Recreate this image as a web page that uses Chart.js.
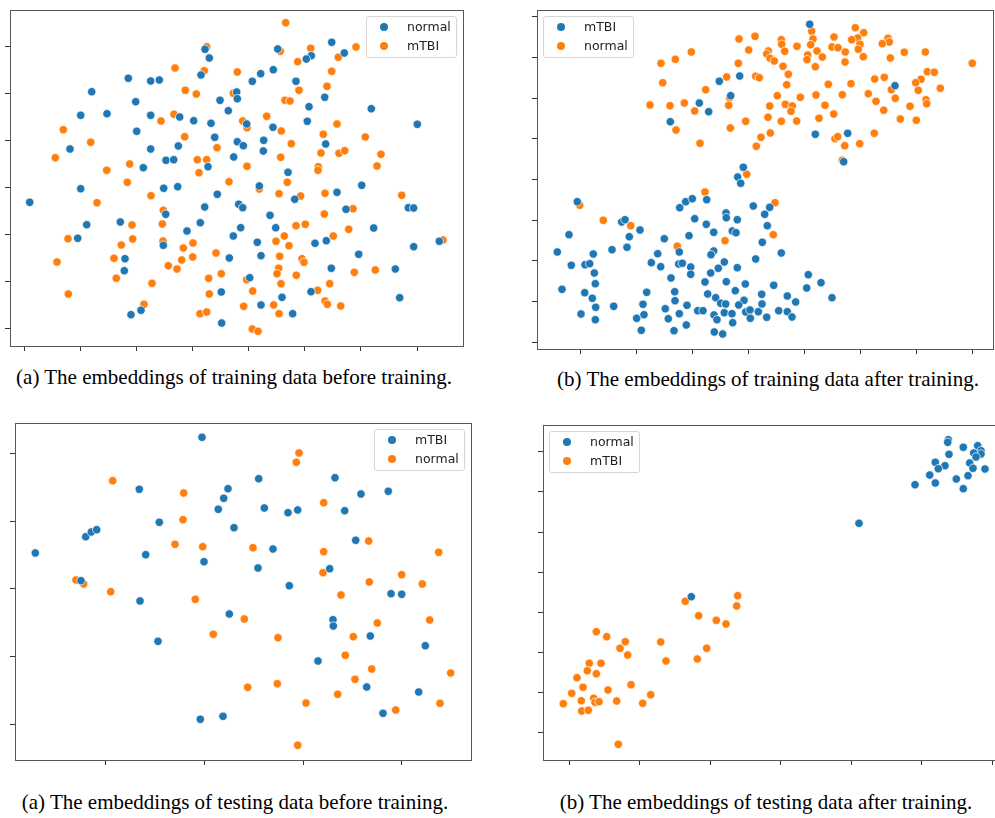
<!DOCTYPE html>
<html>
<head>
<meta charset="utf-8">
<script src="https://cdn.jsdelivr.net/npm/chart.js@4"></script>
<style>
  html, body { margin: 0; padding: 0; background: #fff; }
  body { width: 995px; height: 818px; position: relative; overflow: hidden; }
  .panel { position: absolute; }
  .legend {
    position: absolute; box-sizing: border-box; width: 91px; height: 42px;
    border: 1px solid #d6d6d6; border-radius: 3px; background: rgba(255,255,255,0.85);
    font-family: "DejaVu Sans", sans-serif; font-size: 12.5px; color: #222;
  }
  .legend .row { position: absolute; left: 0; height: 16px; line-height: 16px; }
  .legend .dot { position: absolute; left: 13px; top: 4px; width: 8px; height: 8px; border-radius: 50%; }
  .legend .txt { position: absolute; left: 40px; top: 0; white-space: nowrap; }
  .caption {
    position: absolute; text-align: center; white-space: nowrap;
    font-family: "Liberation Serif", "Times New Roman", serif; font-size: 21px; line-height: 21px; color: #000;
  }
</style>
</head>
<body>

<div class="caption" style="left:0; width:468px; top:367px;">(a) The embeddings of training data before training.</div>
<div class="caption" style="left:534px; width:468px; top:369px;">(b) The embeddings of training data after training.</div>
<div class="caption" style="left:0; width:470px; top:792px;">(a) The embeddings of testing data before training.</div>
<div class="caption" style="left:532px; width:468px; top:792px;">(b) The embeddings of testing data after training.</div>

<script>
const BLUE = '#1f77b4';
const ORANGE = '#ff7f0e';

// values are read off the picture (embedding coordinates have no units)
// panel (a) training, before training
const trainBeforeNormal = [
  [205,49.3],[209.3,58],[201,75],[128.3,78.3],[150.7,81],[159.3,80],[91.7,91.7],[236.7,92],[237.3,98.7],[220,100.3],
  [135.7,101.7],[228.3,110.7],[80.7,115.3],[107,113.7],[150.7,115.3],[179.7,117],[193.7,120.7],[211,123.3],[136.7,131.3],
  [214.7,137.3],[237.3,141.7],[70,149],[150.7,149],[178.3,146],[166,160.3],[173.7,159.7],[233.7,157],[208,166.7],
  [143.3,167.7],[80.7,188.7],[163.7,188.3],[177.7,186.7],[217.3,194.3],[29.7,202.3],[238.7,204.3],[204.7,207],
  [165.7,214.3],[120.3,222],[200.3,222.7],[86.7,224.7],[240.7,227.7],[187,231],[233.3,236],[77.7,238.3],[163.3,245.3],
  [229.3,258],[125,258.7],[124.3,270.7],[221.3,292],[141,310.3],[131,314.7],[221.7,323],
  [331.7,42.3],[277.7,49],[311.3,55.7],[306.3,59],[344.3,53],[273.3,69.7],[260.7,73.7],[252.3,81.3],[296,81.3],
  [324.7,97.3],[309,106.7],[371.3,108.7],[307.3,121.3],[246.7,124],[273,127.3],[417.3,124.3],[243.3,145.7],
  [263.7,140.3],[263.3,151],[325.7,144],[288,172.3],[259.3,186],[361.7,185.3],[337,192.3],[294.7,199.3],[242.7,207.7],
  [346,209.3],[408.3,207.7],[413.7,208],[270,215.3],[275.7,227.7],[373.7,228],[257.3,242.3],[315,243.3],[326.3,240.7],
  [439.3,241.3],[413.7,246.7],[261,255.7],[358.7,254.3],[331.3,268.3],[395.3,269],[249.7,277.7],[282,297.3],
  [311,291.7],[399.7,297.7],[261,305],[292.7,313.7]
];
const trainBeforeMtbi = [
  [206.7,46.7],[175,68],[204.3,70.7],[237.3,72],[185.3,90.3],[196.3,94],[233.3,93.3],[174,114.3],[161,121],[63.3,129.7],
  [184.7,136.7],[90.7,142.3],[55.3,157.7],[217,147.7],[197.3,159.7],[206.7,159.7],[129.7,164],[106.7,170.3],[199,172.7],
  [127.3,182.3],[229,181.7],[151,195.7],[97,202.7],[163.3,210.3],[162.3,224],[132,225],[68,238.7],[132.7,239],[163,241],
  [121.3,245],[193,243],[183.3,248],[216,253],[114,258.3],[192.7,257],[181.7,260],[57,262],[168.3,265.7],[177,269],
  [221.3,273.7],[116.3,278.3],[208.7,278.3],[152,283.3],[209.3,294],[68.3,294],[144,304.3],[200,313.7],[206.7,312],
  [285.7,22.7],[356,47],[280.3,51.3],[310.7,48.3],[338.3,57.3],[297.7,61.7],[331.7,71.3],[327,86.3],[299,90.3],
  [285,100.3],[290,101],[266.7,116.3],[242.7,121],[247,127.7],[281.3,131],[337,124],[323.3,134.3],[365.3,137],
  [291.3,143.7],[321,153],[339,153.3],[344.7,150.7],[381,154.3],[280.7,157.3],[247,166.3],[318.3,166.7],[318,170.3],
  [377,166],[287.3,182.3],[259.3,189],[279,193.7],[300.7,196],[325,193.3],[401.7,195.3],[353,208.7],[324.3,214],
  [296,225.7],[305.3,224.3],[348.7,229.3],[284.3,236],[333.3,236],[276,241.3],[289,245.7],[443,240],[279.7,256.3],
  [302,258.7],[304,262.3],[278.7,268.3],[277,273.7],[296.3,275.3],[354.3,272.3],[375.3,270],[246.7,279.7],[252.7,291],
  [281,283.7],[329.7,283.7],[317.7,290.3],[243.7,306.3],[273.7,305],[279,313.7],[325,301],[327.3,304.3],[340.7,306],
  [252.3,329],[258,331.3]
];
const trainBeforeXTicks = [24, 80.1, 136.3, 192.4, 248.6, 304.7, 360.9, 417];
const trainBeforeYTicks = [46.7, 93.6, 140.6, 187.5, 234.5, 281.4, 328.4];

// panel (b) training, after training
const trainAfterMtbi = [
  [739.7,76],[719.3,81.3],[730.7,95.7],[699.3,103],[708.7,111.7],[670.3,121.7],[743.3,167.3],[737.7,177],[740.7,183.3],
  [577.3,201.7],[679.7,207.7],[685.7,201.7],[692.3,198.7],[706.7,199.7],[753.3,206],[621.7,222],[625,219.7],[726,213],
  [726.3,217.7],[737.3,219.7],[694.7,218.7],[706.3,224.3],[640,230],[569,234.7],[629.3,236.7],[713.7,232.3],[732.3,231],
  [736,232.7],[689,235.7],[664.3,238.7],[627,247.3],[612,249.7],[557.3,252],[593.3,254],[679.3,252],[657.7,253.7],
  [713.7,251],[711,254.7],[571.3,265.3],[585,264.7],[589.7,263.7],[651.3,262.7],[660.7,266.7],[678.7,264],[682.3,263.3],
  [690.7,267],[724.3,262],[718.3,268.3],[737.3,267.7],[594.3,273],[690.7,274.3],[710.7,273],[595.3,283.7],[671,278],
  [705,282],[726.3,281.7],[745.3,284],[562,289.3],[584.7,292.7],[592.3,298.3],[646.7,292.3],[674.7,291.7],[707.7,294],
  [735.3,290.7],[715.7,297.7],[675,300.7],[687,305.3],[720.7,303.3],[725.7,304],[744,300.3],[738.7,305],[643,304.3],
  [613.7,306.3],[595.7,307.3],[665.3,308.7],[697.7,310.7],[703,310.7],[581,314],[595.3,319.7],[636.7,318.3],[644,314.7],
  [668.3,318.7],[679.3,313.7],[714,315],[724.3,312.7],[732,313.7],[745.7,312],[750,310],[750.3,318.3],[717,319.7],
  [732.7,322.7],[641.3,330.3],[674,330.7],[686.3,325],[714.3,332],[722.7,334],
  [809.7,24.3],[895,85.7],[815.3,134.3],[847.7,133.3],[843.7,161.7],[769.7,207.3],[764.7,214.3],[767.3,225.7],
  [762.3,242.3],[781.3,253],[755.7,259],[808.3,274.7],[821,282.7],[773.7,285.3],[806.7,288],[761.7,294.3],[787.3,296],
  [832,297.7],[795.7,302],[762,304],[758.3,311.7],[778.7,310.7],[787.3,311.7],[766.7,317.3],[792,317]
];
const trainAfterNormal = [
  [739,39],[755,36.3],[748.7,50],[691.3,52],[675.3,59.3],[661,63.3],[738.3,63.3],[726.7,77],[755.7,76.3],[759.3,77.7],
  [662.7,82.7],[705.7,89.7],[729.7,97.7],[650,105],[670,105.7],[684.3,103],[728.7,105.3],[694.7,111],[745.7,121.3],
  [676,130],[730.3,128],[700,143.3],[746.7,174.3],[705,192],[579.7,205.3],[603.3,220.3],[630.7,225.7],[725,240.7],
  [677.3,246.3],
  [811.7,31.3],[813,39],[810.7,44.7],[855.3,27.7],[863.7,32.7],[857.7,38],[851.7,39.7],[834,37],[860,44.3],[858.3,49.3],
  [888,38.3],[889.3,42],[882.3,43.7],[781.3,39.7],[781.7,44.3],[797,46.3],[784.7,51.3],[768.3,51],[766.7,54],[770,58.3],
  [774.3,61],[807.7,55],[807,59.7],[817,51],[822.3,57],[832,47],[838,47.7],[845.3,52],[863.3,56.7],[845,62],[815.3,66.7],
  [783,66.3],[890.3,58],[904.3,52.3],[925.3,52],[972.3,63.3],[788.3,74.3],[786.7,84.7],[828.3,84.3],[851,83.7],
  [874.7,79],[884.3,77.3],[927.3,71.7],[934.3,72.3],[921,79.3],[915.7,82.7],[891.3,89.7],[918.3,90.3],[940.3,88.3],
  [777.3,95.7],[800.3,97.3],[816,95],[842.3,94.7],[868.3,93.7],[895.3,98.3],[876,101.3],[769.7,106],[785.3,104.3],
  [792.3,106],[791,111.3],[825,105.3],[910,106.3],[926,99.7],[926.7,103.7],[883.7,110.3],[833.7,114],[768,117.3],
  [781.3,121.3],[796.7,121],[819,118.3],[900.3,119],[916.3,120.3],[770.3,133],[761,137.3],[756.3,146.3],[835,138.7],
  [837.7,136.7],[844.7,145.7],[859.7,143.7],[874.3,133.3],[842.3,160.3],[775,202.7],[773.3,234.7]
];
const trainAfterXTicks = [580.7, 636.7, 692.7, 748.7, 804.7, 860.7, 916.7, 972.7];
const trainAfterYTicks = [16.7, 57.4, 98.1, 138.8, 179.5, 220.2, 260.9, 301.6, 342.3];

// panel (a) testing, before training
const testBeforeMtbi = [
  [202,437.3],[139.3,489.3],[228,488.7],[223.7,498.3],[218.3,509.3],[159.3,522.3],[234,527.7],[85.7,536.7],[91.3,532],
  [96.7,529.7],[35.3,553],[145.7,554.7],[204,561.7],[81,580.7],[140,601],[229.3,614],[158,641.3],[200.3,719.3],[223,716.3],
  [258.7,478.7],[335,477.7],[361,494],[388.3,491.3],[264.3,508],[288,512.7],[297.7,510],[344.7,510.7],[355.7,540.3],
  [273,549],[258,568],[329.7,568.7],[289.3,585.7],[391,593.7],[401.7,594.3],[333,619.7],[333.3,626],[370.3,636],
  [425.3,645.7],[318,661],[366.7,687],[418.7,692],[383,713.3]
];
const testBeforeNormal = [
  [112.7,480.7],[183.7,493],[183,519.7],[175,544.3],[202.7,546.7],[76,580],[83.7,584],[110.7,591.7],[195.3,599.3],
  [213.3,634.3],
  [299,453],[296.3,462.3],[323.7,502.7],[368.7,541],[253,547.7],[323.7,551.7],[438.7,552.3],[323,572.7],[401.7,574.7],
  [369.3,582],[422.3,584],[341,595],[244.3,619],[377.3,623],[429.7,620],[278,637.7],[353.3,636.7],[345.3,655.3],
  [371.7,669],[450.7,673],[247.7,687.3],[277.3,683.7],[355,679.3],[337.7,694.3],[306,703],[440,703.3],[395.7,710],
  [297.7,745.3]
];
const testBeforeXTicks = [105.5, 204.3, 303.1, 401.9];
const testBeforeYTicks = [453.3, 521.1, 588.8, 656.6, 724.3];

// panel (b) testing, after training
const testAfterNormal = [
  [948.3,439.7],[947.7,442.3],[963.3,447.3],[977.7,445.7],[981,450.7],[981,454],[973.7,453],[976,457],[949,454.3],
  [935.3,462.3],[945,465.7],[938.3,468.7],[969.7,463],[973,468.3],[985,469],[929.7,475],[968,475.7],[956.3,479],
  [935.3,483],[915,484.7],[963.3,488.7],[859,523.3],[691.3,596.7]
];
const testAfterMtbi = [
  [685.3,601.3],[737.7,595.7],[736.7,606],[698.7,615.7],[716.3,620.3],[726,624],[596.3,631.7],[606.7,636.7],[625.3,641.7],
  [620,648.3],[627.7,655],[660.7,642],[666,661],[706.7,648.3],[697.3,659],[589.3,663.3],[601,663.3],[587.3,670.7],
  [596.3,673.7],[577,677.7],[583,687.3],[608,690],[631,684.7],[571.7,693.3],[650.7,694.7],[563.3,703.7],[581.3,700.7],
  [593.7,698.3],[595,702.3],[599,701.7],[616.7,701],[642.7,703.3],[581.7,711],[588.3,710.3],[618.3,744.3]
];
const testAfterXTicks = [569.3, 639.8, 710.2, 780.6, 851.1, 921.5, 992];
const testAfterYTicks = [451.7, 491.8, 532, 572.1, 612.3, 652.4, 692.6, 732.7];

const TICK = 5;   // tick mark length
const PAD = 3;    // room so the frame is not clipped

// frame = [left, top, right, bottom] of the axes box
const panels = [
  { frame: [10, 10, 463, 346], xTicks: trainBeforeXTicks, yTicks: trainBeforeYTicks, legend: 'right',
    series: [{ label: 'normal', data: trainBeforeNormal, color: BLUE }, { label: 'mTBI', data: trainBeforeMtbi, color: ORANGE }] },
  { frame: [537, 10, 993, 349], xTicks: trainAfterXTicks, yTicks: trainAfterYTicks, legend: 'left',
    series: [{ label: 'mTBI', data: trainAfterMtbi, color: BLUE }, { label: 'normal', data: trainAfterNormal, color: ORANGE }] },
  { frame: [15, 423, 471, 760], xTicks: testBeforeXTicks, yTicks: testBeforeYTicks, legend: 'right',
    series: [{ label: 'mTBI', data: testBeforeMtbi, color: BLUE }, { label: 'normal', data: testBeforeNormal, color: ORANGE }] },
  { frame: [543, 425, 999, 760], xTicks: testAfterXTicks, yTicks: testAfterYTicks, legend: 'left',
    series: [{ label: 'normal', data: testAfterNormal, color: BLUE }, { label: 'mTBI', data: testAfterMtbi, color: ORANGE }] }
];

// draw the top and right spines too
const boxPlugin = {
  id: 'box',
  afterDraw(chart) {
    const a = chart.chartArea, c = chart.ctx;
    c.save();
    c.strokeStyle = '#555';
    c.lineWidth = 1;
    c.strokeRect(Math.round(a.left) + 0.5, Math.round(a.top) + 0.5, Math.round(a.right - a.left), Math.round(a.bottom - a.top));
    c.restore();
  }
};

function axis(min, max, ticks, reverse) {
  return {
    type: 'linear', min, max, reverse,
    border: { display: false },
    grid: { display: true, drawOnChartArea: false, drawTicks: true, tickLength: TICK, color: '#333', lineWidth: 1 },
    ticks: { display: false },
    afterBuildTicks: (s) => { s.ticks = ticks.map(v => ({ value: v })); }
  };
}

panels.forEach((p, i) => {
  const [l, t, r, b] = p.frame;
  const div = document.createElement('div');
  div.className = 'panel';
  Object.assign(div.style, {
    left: (l - TICK) + 'px',
    top: (t - PAD) + 'px',
    width: (r - l + TICK + PAD) + 'px',
    height: (b - t + TICK + PAD) + 'px'
  });
  const canvas = document.createElement('canvas');
  div.appendChild(canvas);
  document.body.appendChild(div);

  const chart = new Chart(canvas.getContext('2d'), {
    type: 'scatter',
    data: {
      datasets: p.series.map(s => ({
        label: s.label,
        data: s.data,
        backgroundColor: s.color,
        borderColor: 'rgba(255,255,255,0.9)',
        borderWidth: 0.8,
        pointRadius: 4.2,
        pointHoverRadius: 4.2,
        clip: false
      }))
    },
    options: {
      responsive: true,
      maintainAspectRatio: false,
      animation: false,
      events: [],
      layout: { padding: { top: PAD, right: PAD, left: 0, bottom: 0 }, autoPadding: false },
      plugins: { legend: { display: false }, tooltip: { enabled: false } },
      scales: {
        x: axis(l, r, p.xTicks, false),
        y: axis(t, b, p.yTicks, true)
      }
    },
    plugins: [boxPlugin]
  });

  // matplotlib-style legend inside the axes
  const lg = document.createElement('div');
  lg.className = 'legend';
  lg.style.top = (t + 6) + 'px';
  lg.style.left = (p.legend === 'right' ? r - 6 - 91 : l + 6) + 'px';
  chart.data.datasets.forEach((ds, k) => {
    const row = document.createElement('div');
    row.className = 'row';
    row.style.top = (2 + k * 19) + 'px';
    row.style.width = '89px';
    row.innerHTML = `<span class="dot" style="background:${ds.backgroundColor}"></span><span class="txt">${ds.label}</span>`;
    lg.appendChild(row);
  });
  document.body.appendChild(lg);
});
</script>
</body>
</html>
